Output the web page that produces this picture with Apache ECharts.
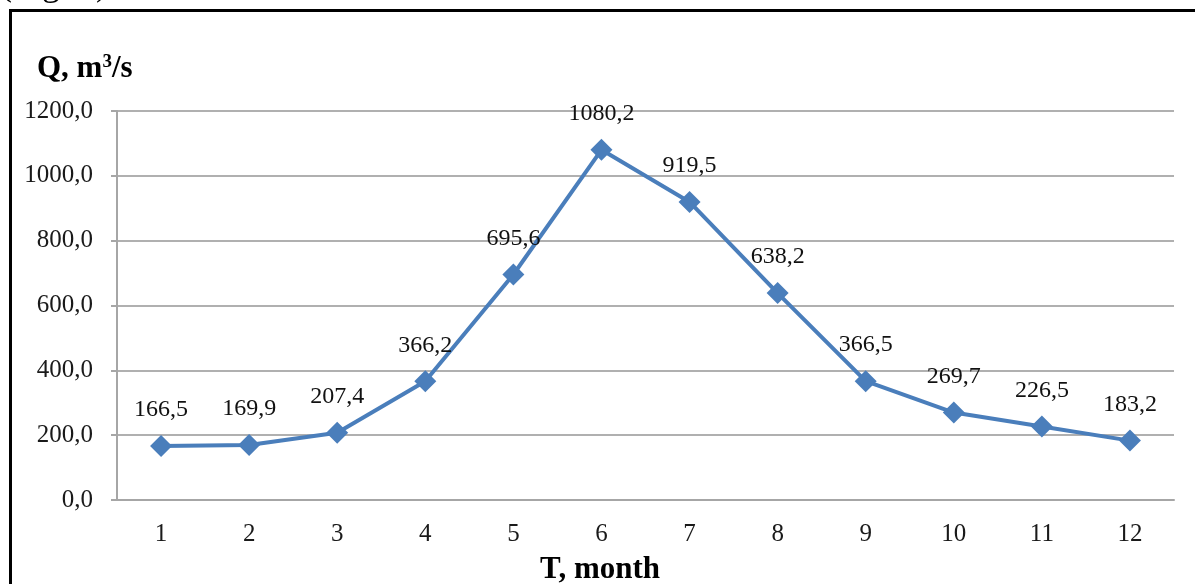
<!DOCTYPE html>
<html>
<head>
<meta charset="utf-8">
<script src="https://cdn.jsdelivr.net/npm/echarts@6/dist/echarts.min.js"></script>
<style>
html,body{margin:0;padding:0;background:#fff;}
#chart{width:1195px;height:584px;}
</style>
</head>
<body>
<div id="chart"></div>
<script>
var months = ['1','2','3','4','5','6','7','8','9','10','11','12'];
var discharge = [166.5, 169.9, 207.4, 366.2, 695.6, 1080.2, 919.5, 638.2, 366.5, 269.7, 226.5, 183.2];
var yTicks = [0, 200, 400, 600, 800, 1000, 1200];
var yTitle = ['Q, m', '3', '/s'];
var xTitle = 'T, month';

function fmt(v){ return v.toFixed(1).replace('.', ','); }

var chart = echarts.init(document.getElementById('chart'), null, {renderer:'canvas'});
var serif = '"Liberation Serif", "Times New Roman", serif';
chart.setOption({
  animation: false,
  backgroundColor: '#fff',
  grid: {left: 117, right: 21, top: 111, bottom: 84, containLabel: false},
  graphic: [
    {type:'rect', shape:{x:10.5, y:10.5, width:1200, height:600}, style:{fill:'none', stroke:'#000', lineWidth:3}, z:0},
    {type:'text', left: 0, top: -32, style:{text:'(Fig. 1)', font:'36px ' + serif, fill:'#000'}},
    {type:'text', left: 37, top: 53, style:{
      text: '{a|' + yTitle[0] + '}{s|' + yTitle[1] + '}{a|' + yTitle[2] + '}',
      rich: {
        a: {fontFamily: serif, fontWeight: 'bold', fontSize: 31, fill: '#000', color: '#000'},
        s: {fontFamily: serif, fontWeight: 'bold', fontSize: 19, fill: '#000', color: '#000', verticalAlign: 'top', padding: [0,0,11,0]}
      }
    }},
    {type:'text', left: 540, top: 554, style:{text: xTitle, font:'bold 31px ' + serif, fill:'#000'}}
  ],
  xAxis: {
    type: 'category',
    data: months,
    boundaryGap: true,
    axisLine: {show: true, lineStyle: {color: '#a6a6a6', width: 2}},
    axisTick: {show: false},
    axisLabel: {color: '#1a1a1a', fontFamily: serif, fontSize: 25, margin: 22}
  },
  yAxis: {
    type: 'value',
    min: yTicks[0],
    max: yTicks[yTicks.length-1],
    interval: 200,
    axisLine: {show: true, lineStyle: {color: '#a6a6a6', width: 2}},
    axisTick: {show: true, length: 6, lineStyle: {color: '#a6a6a6', width: 2}},
    splitLine: {show: true, lineStyle: {color: '#b0b0b0', width: 2}},
    axisLabel: {color: '#1a1a1a', fontFamily: serif, fontSize: 25, margin: 24, formatter: function(v){ return fmt(v); }}
  },
  series: [{
    type: 'line',
    data: discharge,
    symbol: 'diamond',
    symbolSize: 22,
    lineStyle: {color: '#4a7ebb', width: 4},
    itemStyle: {color: '#4a7ebb'},
    label: {
      show: true, position: 'top', distance: 13,
      color: '#111', fontFamily: serif, fontSize: 24,
      formatter: function(p){ return fmt(p.value); }
    }
  }]
});
</script>
</body>
</html>
